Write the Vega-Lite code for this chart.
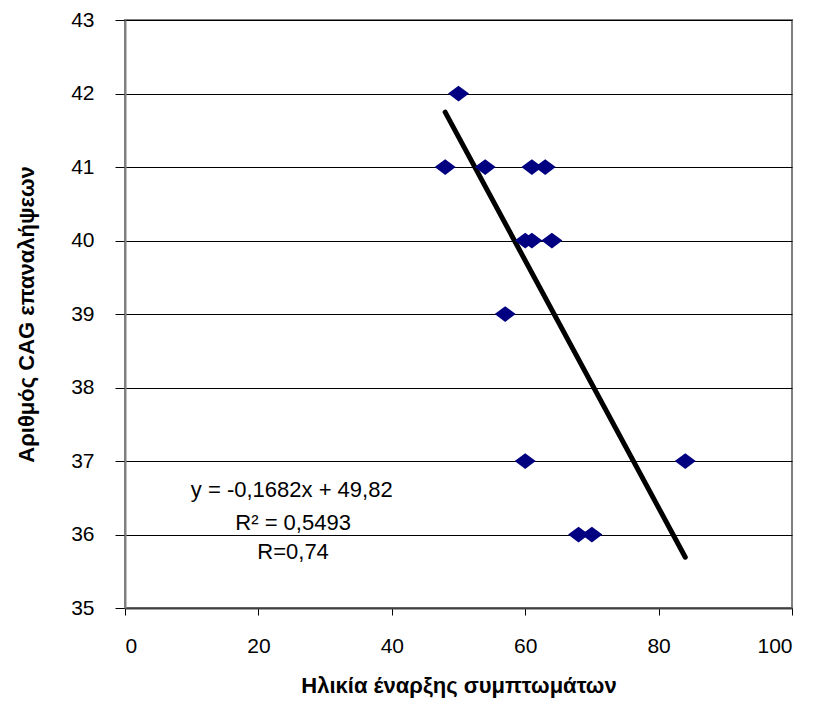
{
  "$schema": "https://vega.github.io/schema/vega-lite/v6.json",
  "width": 667,
  "height": 588,
  "autosize": "none",
  "padding": {"left": 125, "top": 20, "right": 26, "bottom": 96},
  "background": "white",
  "config": {
    "view": {"stroke": "#808080", "strokeWidth": 2},
    "font": "Liberation Sans"
  },
  "datasets": {
    "pts": [
      {"age": 50, "cag": 42},
      {"age": 48, "cag": 41},
      {"age": 54, "cag": 41},
      {"age": 61, "cag": 41},
      {"age": 63, "cag": 41},
      {"age": 60, "cag": 40},
      {"age": 61, "cag": 40},
      {"age": 64, "cag": 40},
      {"age": 57, "cag": 39},
      {"age": 60, "cag": 37},
      {"age": 84, "cag": 37},
      {"age": 68, "cag": 36},
      {"age": 70, "cag": 36}
    ],
    "trend": [
      {"age": 48, "cag": 41.746},
      {"age": 84, "cag": 35.691}
    ],
    "notes": [
      {"age": 25, "cag": 36.6, "label": "y = -0,1682x + 49,82"},
      {"age": 25.2, "cag": 36.16, "label": "R² = 0,5493"},
      {"age": 25.2, "cag": 35.76, "label": "R=0,74"}
    ]
  },
  "encoding": {
    "x": {
      "field": "age", "type": "quantitative",
      "scale": {"domain": [0, 100], "nice": false, "zero": false},
      "axis": {
        "title": "Ηλικία έναρξης συμπτωμάτων",
        "values": [0, 20, 40, 60, 80, 100],
        "grid": false,
        "domainColor": "#404040", "domainWidth": 2,
        "tickColor": "black", "tickSize": 7,
        "labelFontSize": 21, "labelColor": "black", "labelPadding": 20,
        "labelFont": "Liberation Sans",
        "titleFontSize": 22, "titleFontWeight": "bold", "titleColor": "black",
        "titleFont": "Liberation Sans", "titlePadding": 19
      }
    },
    "y": {
      "field": "cag", "type": "quantitative",
      "scale": {"domain": [35, 43], "nice": false, "zero": false},
      "axis": {
        "title": "Αριθμός CAG επαναλήψεων",
        "values": [35, 36, 37, 38, 39, 40, 41, 42, 43],
        "grid": true, "gridColor": "black", "gridWidth": 1, "gridOpacity": 1,
        "domainColor": "#808080", "domainWidth": 2,
        "tickColor": "black", "tickSize": 10,
        "labelFontSize": 21, "labelColor": "black", "labelPadding": 21,
        "labelFont": "Liberation Sans",
        "titleFontSize": 22, "titleFontWeight": "bold", "titleColor": "black",
        "titleFont": "Liberation Sans", "titlePadding": 32
      }
    }
  },
  "layer": [
    {
      "data": {"name": "trend"},
      "mark": {"type": "line", "color": "black", "strokeWidth": 5, "strokeCap": "round"}
    },
    {
      "data": {"name": "pts"},
      "mark": {
        "type": "point", "filled": true, "opacity": 1,
        "shape": "M-1,0L0,-0.75L1,0L0,0.75Z",
        "size": 441, "color": "#000080"
      }
    },
    {
      "data": {"name": "notes"},
      "mark": {"type": "text", "fontSize": 22, "color": "black", "font": "Liberation Sans", "align": "center", "baseline": "middle"},
      "encoding": {"text": {"field": "label"}}
    }
  ]
}
